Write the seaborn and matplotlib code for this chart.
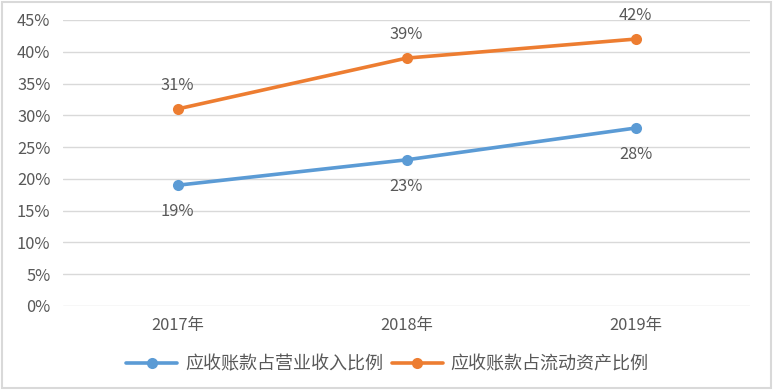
import matplotlib
matplotlib.use("Agg")
import matplotlib.pyplot as plt
import seaborn as sns
import pandas as pd
from matplotlib.patches import Rectangle
from matplotlib.lines import Line2D

years = ["2017年", "2018年", "2019年"]
series_names = ["应收账款占营业收入比例", "应收账款占流动资产比例"]
revenue_ratio = [19, 23, 28]
current_asset_ratio = [31, 39, 42]
y_ticks = [0, 5, 10, 15, 20, 25, 30, 35, 40, 45]

sns.set_theme(style="white")
plt.rcParams['font.family'] = ['Noto Sans CJK SC', 'DejaVu Sans']

df = pd.DataFrame({
    "year": years * 2,
    "x": list(range(len(years))) * 2,
    "value": revenue_ratio + current_asset_ratio,
    "series": [series_names[0]] * 3 + [series_names[1]] * 3,
})

colors = {series_names[0]: "#5B9BD5", series_names[1]: "#ED7D31"}
text_color = "#595959"
fs = 11.8

fig = plt.figure(figsize=(7.75, 3.9), dpi=100)
ax = fig.add_axes([63/775, (390-306)/390, (750-63)/775, (306-20)/390])

sns.lineplot(data=df, x="x", y="value", hue="series", palette=colors,
             marker="o", markersize=8, markeredgewidth=0, linewidth=2.6,
             ax=ax, legend=False, sort=False)

for i, v in enumerate(revenue_ratio):
    ax.annotate(f"{v}%", (i, v), xytext=(0, -19), textcoords="offset points",
                ha="center", va="center", fontsize=fs, color=text_color)
for i, v in enumerate(current_asset_ratio):
    ax.annotate(f"{v}%", (i, v), xytext=(0, 17), textcoords="offset points",
                ha="center", va="center", fontsize=fs, color=text_color)

ax.set_xlim(-0.5, 2.5)
ax.set_ylim(0, 45)
ax.set_yticks(y_ticks)
ax.set_yticklabels([f"{t}%" for t in y_ticks], fontsize=fs, color=text_color)
ax.set_xticks(range(len(years)))
ax.set_xticklabels(years, fontsize=fs, color=text_color)
ax.tick_params(axis="y", length=0, pad=9)
ax.tick_params(axis="x", length=0, pad=8)
ax.set_xlabel("")
ax.set_ylabel("")
ax.grid(axis="y", color="#d9d9d9", linewidth=1)
for s in ax.spines.values():
    s.set_visible(False)
ax.set_axisbelow(True)

handles = [Line2D([0], [0], color=colors[n], lw=2.6, marker="o", markersize=8,
                  markeredgewidth=0) for n in series_names]
fig.legend(handles, series_names, loc="center", bbox_to_anchor=(0.5, (390-364)/390),
           ncol=2, frameon=False, fontsize=13, labelcolor=text_color,
           handlelength=2.8, handletextpad=0.45, columnspacing=0.5)

fig.add_artist(Rectangle((0.003, 0.005), 0.992, 0.99, transform=fig.transFigure,
                         fill=False, edgecolor="#d9d9d9", linewidth=1.5))

fig.savefig("out.png", dpi=100)
